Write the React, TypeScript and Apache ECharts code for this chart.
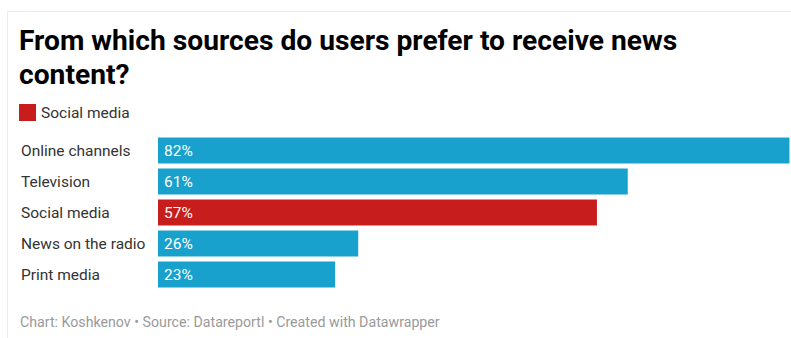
import React, { useEffect, useRef } from "react";
import * as echarts from "echarts";

const categories = ["Online channels", "Television", "Social media", "News on the radio", "Print media"];
const otherValues = [82, 61, null, 26, 23];
const socialValues = [null, null, 57, null, null];
const titleText = "From which sources do users prefer to receive news\ncontent?";
const footerText = "Chart: Koshkenov • Source: Datareportl • Created with Datawrapper";

const BLUE = "#18a1cd";
const RED = "#c71e1d";
const FONT = "Roboto, 'Noto Sans', sans-serif";

export default function App() {
  const ref = useRef<HTMLDivElement>(null);
  useEffect(() => {
    document.body.style.margin = "0";
    const chart = echarts.init(ref.current!, null, { renderer: "svg" });
    const labelCfg = {
      show: true,
      position: "insideLeft",
      distance: 6,
      color: "#ffffff",
      fontSize: 15.5,
      fontFamily: FONT,
      formatter: (p: any) => `${p.value}%`,
    };
    chart.setOption({
      animation: false,
      backgroundColor: "#ffffff",
      title: {
        text: titleText,
        left: 19,
        top: 23,
        padding: 0,
        textStyle: {
          fontSize: 28.2,
          fontWeight: "bold",
          fontFamily: FONT,
          color: "#000000",
          lineHeight: 34,
        },
      },
      legend: {
        data: ["Social media"],
        left: 19,
        top: 104,
        padding: 0,
        icon: "rect",
        itemWidth: 17,
        itemHeight: 17,
        selectedMode: false,
        textStyle: { fontSize: 15.5, color: "#333333", fontFamily: FONT, padding: [0, 0, 0, 0] },
      },
      grid: { left: 158, right: 0, top: 135, height: 155 },
      xAxis: {
        type: "value",
        min: 0,
        max: 82.2,
        show: false,
      },
      yAxis: {
        type: "category",
        data: categories,
        inverse: true,
        axisLine: { show: false },
        axisTick: { show: false },
        splitLine: { show: false },
        axisLabel: {
          align: "left",
          margin: 137,
          fontSize: 15.5,
          color: "#333333",
          fontFamily: FONT,
        },
      },
      series: [
        {
          name: "Others",
          type: "bar",
          stack: "all",
          data: otherValues,
          barWidth: 26,
          itemStyle: { color: BLUE },
          label: labelCfg,
        },
        {
          name: "Social media",
          type: "bar",
          stack: "all",
          data: socialValues,
          barWidth: 26,
          itemStyle: { color: RED },
          label: labelCfg,
        },
      ],
      graphic: [
        {
          type: "rect",
          silent: true,
          shape: { x: 7.5, y: 11.5, width: 900, height: 500 },
          style: { fill: "none", stroke: "#ececec", lineWidth: 1 },
        },
        {
          type: "text",
          x: 20,
          y: 322,
          style: {
            text: footerText,
            fontSize: 14.2,
            fontFamily: FONT,
            fill: "#9a9a9a",
            textVerticalAlign: "middle",
          },
        },
      ],
    });
    return () => chart.dispose();
  }, []);
  return <div ref={ref} style={{ width: 791, height: 338 }} />;
}
